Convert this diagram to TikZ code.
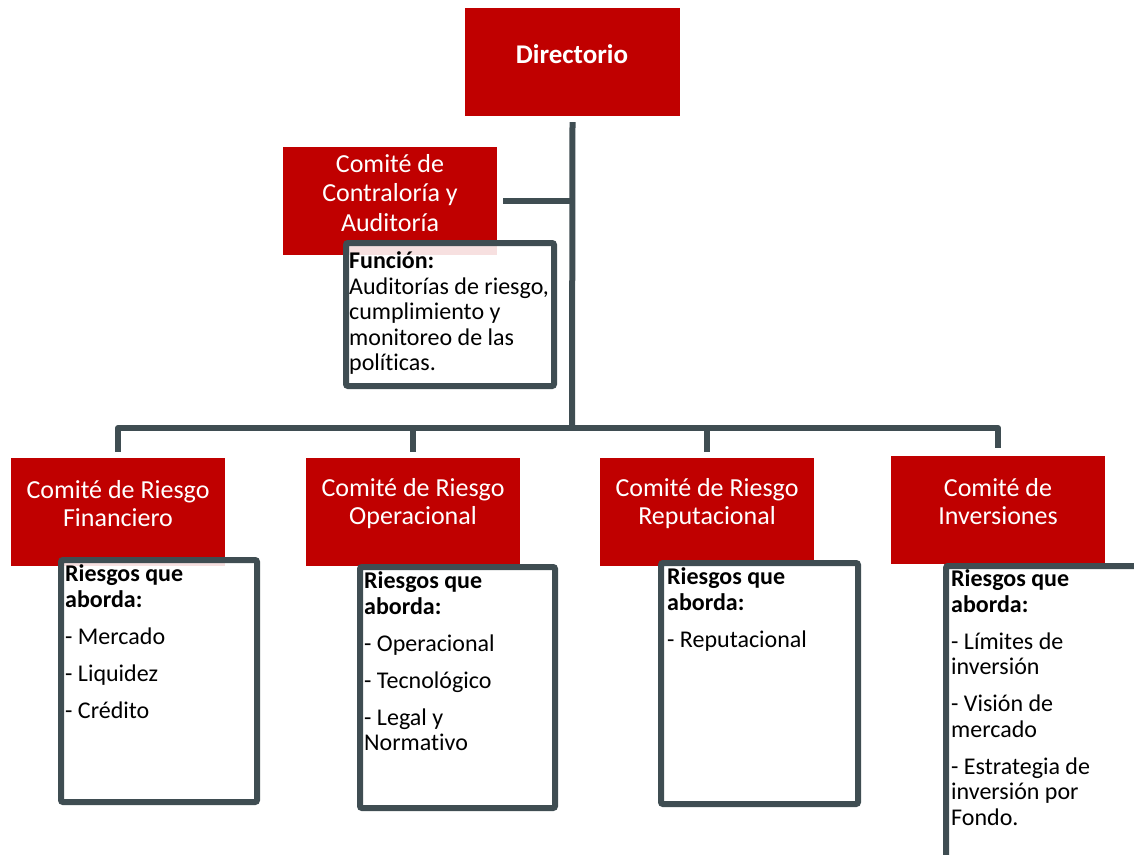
\documentclass[tikz,border=0pt]{standalone}
\usepackage{fontspec}
\setmainfont{Carlito}[Ligatures={NoCommon}]
\usepackage{tikz}
\usetikzlibrary{positioning}
\definecolor{ComiteRed}{HTML}{C00000}
\definecolor{LineSlate}{HTML}{3F4D52}
\tikzset{
  redbox/.style={rectangle, draw=none, fill=ComiteRed, inner sep=0pt, minimum width=214pt, minimum height=108pt},
  infobox/.style={rectangle, rounded corners=2pt, draw=LineSlate, line width=6pt, fill=white, fill opacity=0.88, inner sep=0pt},
  redtext/.style={text=white, align=center, inner sep=0pt, font=\fontsize{26}{28}\selectfont},
  infotext/.style={anchor=north west, align=left, inner sep=0pt, font=\fontsize{24}{25.5}\selectfont},
  orgline/.style={draw=LineSlate, line width=6pt, line join=round}
}

\begin{document}
\begin{tikzpicture}[x=1pt, y=-1pt]
  \useasboundingbox (0,0) rectangle (1134,854);
  \clip (0,0) rectangle (1134,854);

  % committees
  \node[redbox, minimum width=215pt] (dir) at (572.5,62) {};
  \node[redbox] (con) at (390,201) {};
  \node[redbox] (fin) at (118,512) {};
  \node[redbox] (ope) at (413,512) {};
  \node[redbox] (rep) at (707,512) {};
  \node[redbox] (inv) at (998,510) {};
  \coordinate (hub) at (572,428);

  % connectors
  \draw[orgline] ([yshift=-6pt]dir.south) -- (hub);
  \draw[orgline] ([xshift=6pt]con.east) -- (con.east -| hub);
  \draw[orgline] ([yshift=6pt]fin.north) |- (hub) -| ([yshift=8pt]inv.north);
  \draw[orgline] ([yshift=6pt]ope.north) -- (ope.north |- hub);
  \draw[orgline] ([yshift=6pt]rep.north) -- (rep.north |- hub);

  \node[redtext, font=\bfseries\fontsize{27}{30}\selectfont] (dirlabel) at (572,54) {Directorio};
  \node[redtext, font=\fontsize{26}{29.5}\selectfont] (conlabel) at (390,193) {Comité de\\Contraloría y\\Auditoría};
  \node[redtext] (finlabel) at (118,504) {Comité de Riesgo\\Financiero};
  \node[redtext] (opelabel) at (413,504) {Comité de Riesgo\\Operacional};
  \node[redtext] (replabel) at (707,504) {Comité de Riesgo\\Reputacional};
  \node[redtext] (invlabel) at (998,502) {Comité de\\Inversiones};

  % description boxes
  \node[infobox, minimum width=208pt, minimum height=143pt] (fun) at (450,314.5) {};
  \node[infobox, minimum width=196pt, minimum height=242pt] (finbox) at (159,681) {};
  \node[infobox, minimum width=195pt, minimum height=241pt] (opebox) at (457.5,687.5) {};
  \node[infobox, minimum width=197pt, minimum height=241pt] (repbox) at (759.5,683.5) {};
  \node[infobox, minimum width=214pt, minimum height=314pt] (invbox) at (1053,723) {};

  \node[infotext] (funtext) at (349,251.5) {\textbf{Función:}\\Auditorías de riesgo,\\cumplimiento y\\monitoreo de las\\políticas.};
  \node[infotext] (fintext) at (65,564.5) {\textbf{Riesgos que}\\\textbf{aborda:}\\[11.5pt]- Mercado\\[11.5pt]- Liquidez\\[11.5pt]- Crédito};
  \node[infotext] (opetext) at (364,571.5) {\textbf{Riesgos que}\\\textbf{aborda:}\\[11.5pt]- Operacional\\[11.5pt]- Tecnológico\\[11.5pt]- Legal y\\Normativo};
  \node[infotext] (reptext) at (667,567.5) {\textbf{Riesgos que}\\\textbf{aborda:}\\[11.5pt]- Reputacional};
  \node[infotext] (invtext) at (951,569.5) {\textbf{Riesgos que}\\\textbf{aborda:}\\[11.5pt]- Límites de\\inversión\\[11.5pt]- Visión de\\mercado\\[11.5pt]- Estrategia de\\inversión por\\Fondo.};
\end{tikzpicture}
\end{document}
